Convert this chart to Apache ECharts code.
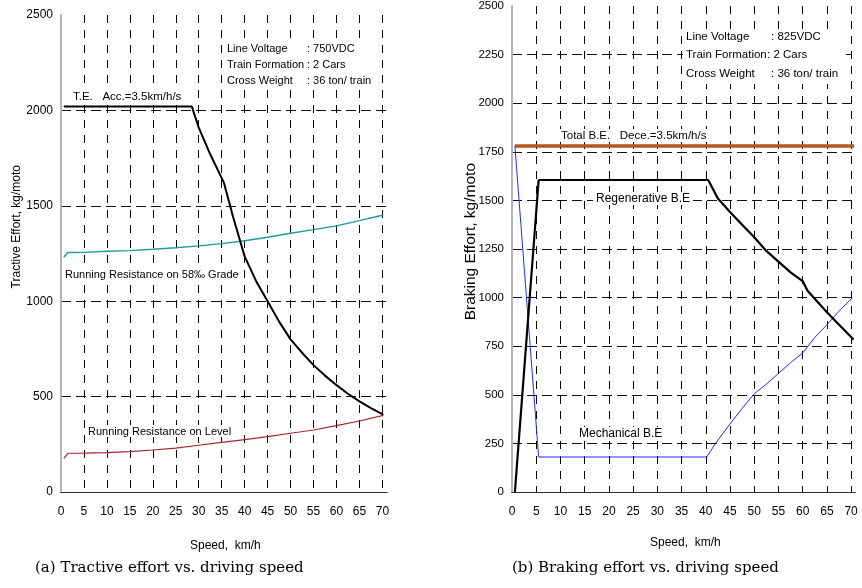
<!DOCTYPE html>
<html>
<head>
<meta charset="utf-8">
<script src="https://cdn.jsdelivr.net/npm/echarts@6/dist/echarts.min.js"></script>
<style>
html,body{margin:0;padding:0;background:#fff;}
#chart{width:862px;height:588px;}
</style>
</head>
<body>
<div id="chart"></div>
<script>
// (a) tractive effort, kg/moto vs speed km/h
var teSpeed = [0.6, 28.5, 30, 32.5, 35.5, 37.5, 40, 42.5, 45, 47.5, 50, 52.5, 55, 57.5, 60, 62.5, 65, 67.5, 70.2];
var teForce = [2020, 2020, 1910, 1770, 1620, 1440, 1235, 1105, 1000, 893, 800, 730, 665, 610, 560, 515, 475, 440, 405];

var gradeSpeed = [0.6, 1.5, 5, 10, 15, 20, 25, 30, 35, 40, 45, 50, 55, 60, 65, 70.2];
var gradeRes = [1230, 1255, 1256, 1262, 1265, 1272, 1280, 1290, 1302, 1317, 1335, 1356, 1375, 1395, 1422, 1452];

var levelSpeed = [0.6, 1.5, 5, 10, 15, 20, 25, 30, 35, 40, 45, 50, 55, 60, 65, 70.2];
var levelRes = [176, 203, 204, 206, 212, 220, 230, 245, 260, 275, 290, 308, 325, 348, 372, 402];

// (b) braking effort
var totalSpeed = [0.6, 70.6];
var totalBE = [1780, 1780];

var regenSpeed = [0.6, 5.5, 40.5, 42.5, 45, 47.5, 50, 52.5, 55, 57.5, 60, 61, 65, 70.5];
var regenBE = [0, 1605, 1605, 1510, 1440, 1375, 1310, 1240, 1185, 1130, 1085, 1035, 925, 785];

var mechSpeed = [0.6, 5.5, 40.2, 42, 45, 47.5, 50, 52.5, 55, 57.5, 60, 62.5, 65, 67.5, 70.3];
var mechBE = [1780, 180, 180, 250, 350, 430, 505, 555, 610, 665, 715, 795, 860, 930, 1000];

function pairs(xs, ys){
	var out = [];
	for(var i=0;i<xs.length;i++) out.push([xs[i], ys[i]]);
	return out;
}

var FONT = 'Liberation Sans';
var chart = echarts.init(document.getElementById('chart'));

function plain(v){ return String(v); }

function xAx(grid, max, size){
	return {
		gridIndex: grid, type: 'value', min: 0, max: max, interval: 5,
		axisLine: {show: true, onZero: false, lineStyle: {color: '#000', width: 1}},
		axisTick: {show: false},
		axisLabel: {color: '#000', fontFamily: FONT, fontSize: size, margin: 14, showMaxLabel: false, formatter: plain},
		splitLine: {show: true, showMaxLine: false, lineStyle: {color: '#000', width: 1, type: [8, 7]}}
	};
}
function yAx(grid, step, size){
	return {
		gridIndex: grid, type: 'value', min: 0, max: 2500, interval: step,
		axisLine: {show: true, lineStyle: {color: '#000', width: 1}},
		axisTick: {show: false},
		axisLabel: {color: '#000', fontFamily: FONT, fontSize: size, margin: 8, formatter: plain},
		splitLine: {show: true, showMaxLine: false, lineStyle: {color: '#111', width: 1, type: [10, 5]}}
	};
}
// frame: top and right edges
function topAx(grid){
	return {gridIndex: grid, type: 'value', position: 'top', min: 0, max: 1,
		axisLine: {show: true, lineStyle: {color: '#333', width: 1}},
		axisTick: {show: false}, axisLabel: {show: false}, splitLine: {show: false}};
}
function rightAx(grid){
	return {gridIndex: grid, type: 'value', position: 'right', min: 0, max: 1,
		axisLine: {show: true, lineStyle: {color: '#b4b4b4', width: 2}},
		axisTick: {show: false}, axisLabel: {show: false}, splitLine: {show: false}};
}

function line(x, y, data, color, width, z){
	return {
		type: 'line', xAxisIndex: x, yAxisIndex: y, data: data,
		showSymbol: false, symbol: 'none', smooth: false, z: z || 3,
		lineStyle: {color: color, width: width}
	};
}

// text on a white box, the way the callouts blank out the grid behind them
function txt(left, top, s, size, bg, extra){
	var st = {text: s, fill: '#000', font: size + 'px "' + FONT + '"'};
	if(bg){ st.backgroundColor = '#fff'; st.padding = [1, 3, 0, 3]; }
	var o = {type: 'text', left: left, top: top, silent: true, z: 1, style: st};
	if(extra){ for(var k in extra) o[k] = extra[k]; }
	return o;
}
function box(left, top, w, h){
	return {type: 'rect', left: left, top: top, silent: true, z: 1,
		shape: {width: w, height: h}, style: {fill: '#fff'}};
}

var option = {
	animation: false,
	backgroundColor: '#fff',
	grid: [
		{left: 61, top: 15, width: 326, height: 477},
		{left: 512, top: 5, width: 343, height: 487}
	],
	xAxis: [xAx(0, 71, 12), xAx(1, 70.8, 12), topAx(0), topAx(1)],
	yAxis: [yAx(0, 500, 12), yAx(1, 250, 11.5), rightAx(0), rightAx(1)],
	series: [
		line(0, 0, pairs(gradeSpeed, gradeRes), '#1f9a98', 1.4),
		line(0, 0, pairs(levelSpeed, levelRes), '#a3262e', 1.2),
		line(0, 0, pairs(teSpeed, teForce), '#000', 2, 4),
		line(1, 1, pairs(totalSpeed, totalBE), '#b4561e', 3.5),
		line(1, 1, pairs(mechSpeed, mechBE), '#1f2cff', 1),
		line(1, 1, pairs(regenSpeed, regenBE), '#000', 2.2, 4)
	],
	graphic: [
		// left panel
		box(225, 40, 147, 48),
		{type: 'group', z: 2, children: []},
		txt(227, 43, 'Line Voltage', 11), txt(307, 43, ': 750VDC', 11),
		txt(227, 59, 'Train Formation', 11), txt(307, 59, ': 2 Cars', 11),
		txt(227, 75, 'Cross Weight', 11), txt(307, 75, ': 36 ton/ train', 11),
		txt(70, 90, 'T.E.   Acc.=3.5km/h/s', 11.5, true),
		txt(62, 268, 'Running Resistance on 58\u2030 Grade', 11, true),
		txt(85, 425, 'Running Resistance on Level', 11, true),
		txt(11, 165, 'Tractive Effort, kg/moto', 12, false, {rotation: Math.PI / 2}),
		txt(190, 540, 'Speed,  km/h', 12),
		{type: 'text', left: 35, top: 561, silent: true,
			style: {text: '(a) Tractive effort vs. driving speed', fill: '#000', font: '15px "DejaVu Serif"'}},
		// right panel
		box(683, 29, 163, 55),
		txt(686, 31, 'Line Voltage', 11.5), txt(771, 31, ': 825VDC', 11.5),
		txt(686, 49, 'Train Formation', 11.5), txt(767, 49, ': 2 Cars', 11.5),
		txt(686, 68, 'Cross Weight', 11.5), txt(771, 68, ': 36 ton/ train', 11.5),
		txt(558, 129, 'Total B.E.   Dece.=3.5km/h/s', 11.5, true),
		txt(593, 192, 'Regenerative B.E', 12, true),
		txt(576, 427, 'Mechanical B.E', 12, true),
		txt(463, 163, 'Braking Effort, kg/moto', 15.5, false, {rotation: Math.PI / 2}),
		txt(650, 537, 'Speed,  km/h', 12),
		{type: 'text', left: 512, top: 561, silent: true,
			style: {text: '(b) Braking effort vs. driving speed', fill: '#000', font: '15px "DejaVu Serif"'}}
	]
};
chart.setOption(option);
</script>
</body>
</html>
